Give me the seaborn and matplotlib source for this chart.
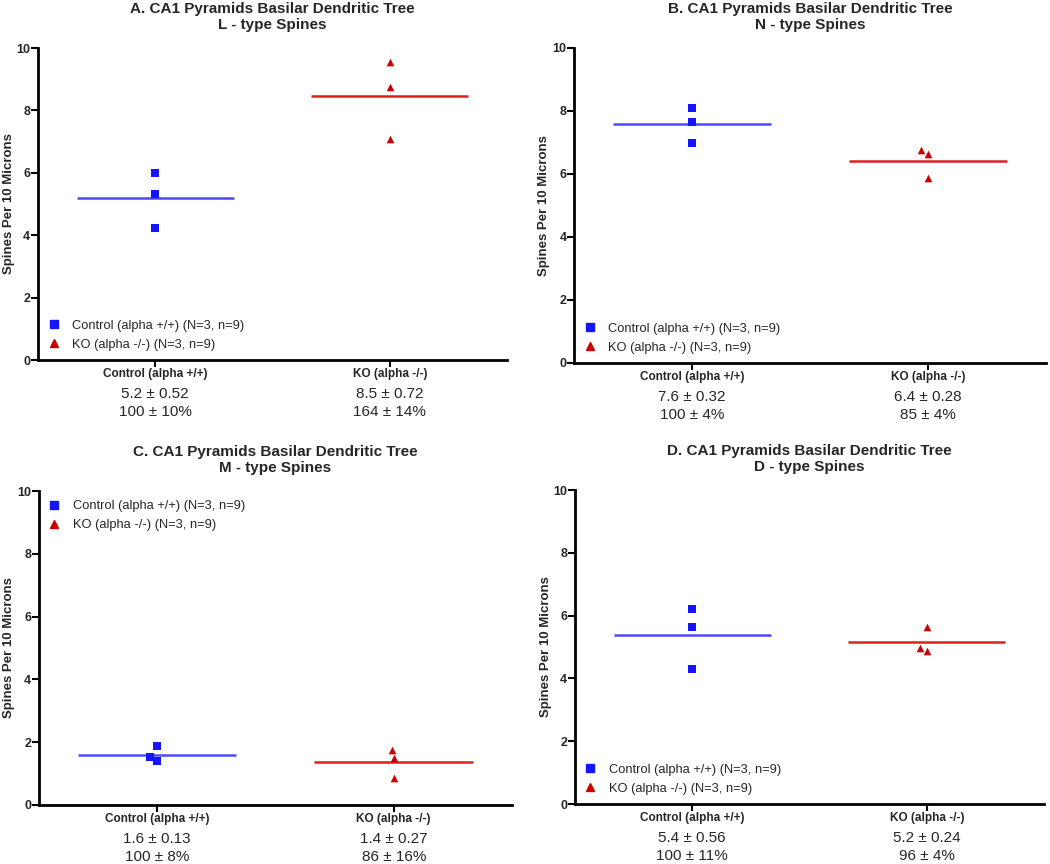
import numpy as np
import pandas as pd
import matplotlib
matplotlib.use("Agg")
import matplotlib.pyplot as plt
from matplotlib.lines import Line2D
import seaborn as sns

# ---- data ----
groups = ["Control (alpha +/+)", "KO (alpha -/-)"]
legend_labels = ["Control (alpha +/+) (N=3, n=9)", "KO (alpha -/-) (N=3, n=9)"]
panel_titles = [
    "A. CA1 Pyramids Basilar Dendritic Tree\nL - type Spines",
    "B. CA1 Pyramids Basilar Dendritic Tree\nN - type Spines",
    "C. CA1 Pyramids Basilar Dendritic Tree\nM - type Spines",
    "D. CA1 Pyramids Basilar Dendritic Tree\nD - type Spines",
]

ctrl_L = [6.00, 5.33, 4.23]
ko_L = [9.54, 8.76, 7.10]
ctrl_N = [8.10, 7.66, 6.98]
ko_N = [6.76, 6.63, 5.87]
ctrl_M = [1.87, 1.52, 1.41]
ko_M = [1.75, 1.51, 0.85]
ctrl_D = [6.20, 5.65, 4.31]
ko_D = [5.64, 4.97, 4.86]

stats_L = ["5.2 ± 0.52\n100 ± 10%", "8.5 ± 0.72\n164 ± 14%"]
stats_N = ["7.6 ± 0.32\n100 ± 4%", "6.4 ± 0.28\n85 ± 4%"]
stats_M = ["1.6 ± 0.13\n100 ± 8%", "1.4 ± 0.27\n86 ± 16%"]
stats_D = ["5.4 ± 0.56\n100 ± 11%", "5.2 ± 0.24\n96 ± 4%"]

# ---- styling ----
sns.set_style("white")
plt.rcParams['font.family'] = ['Liberation Sans', 'DejaVu Sans']

MARK_BLUE = '#1414ff'
LINE_BLUE = '#4a4aff'
MARK_RED = '#cc0000'
LINE_RED = '#dd2020'

fig = plt.figure(figsize=(10.5, 8.64), dpi=100)

# axes boxes [left, bottom, width, height] in figure fractions
boxes = [
    [0.0362, 0.5833, 0.4467, 0.3611],
    [0.5467, 0.5799, 0.4495, 0.3646],
    [0.0371, 0.0683, 0.4505, 0.3634],
    [0.5476, 0.0694, 0.4467, 0.3634],
]
panels = [
    (ctrl_L, ko_L, stats_L, 'lower left'),
    (ctrl_N, ko_N, stats_N, 'lower left'),
    (ctrl_M, ko_M, stats_M, 'upper left'),
    (ctrl_D, ko_D, stats_D, 'lower left'),
]

legend_handles = [
    Line2D([], [], linestyle='none', marker='s', color=MARK_BLUE, markersize=5.5),
    Line2D([], [], linestyle='none', marker='^', color=MARK_RED, markersize=5.5),
]

for box, title, (ctrl, ko, stats, leg_loc) in zip(boxes, panel_titles, panels):
    ax = fig.add_axes(box)
    df = pd.DataFrame({
        'group': [groups[0]] * len(ctrl) + [groups[1]] * len(ko),
        'value': ctrl + ko,
    })

    sns.swarmplot(data=df[df.group == groups[0]], x='group', y='value', order=groups,
                  marker='s', color=MARK_BLUE, size=5.5, linewidth=0, ax=ax)
    sns.swarmplot(data=df[df.group == groups[1]], x='group', y='value', order=groups,
                  marker='^', color=MARK_RED, size=5.5, linewidth=0, ax=ax)

    # mean lines
    means = df.groupby('group', sort=False)['value'].mean()
    for i, (g, c) in enumerate(zip(groups, [LINE_BLUE, LINE_RED])):
        ax.hlines(means[g], i - 0.335, i + 0.335, color=c, linewidth=1.8, zorder=1)

    ax.set_xlim(-0.5, 1.5)
    ax.set_ylim(0, 10)
    ax.set_yticks(range(0, 11, 2))
    ax.set_xlabel("")
    ax.set_ylabel("Spines Per 10 Microns", fontsize=9.5, fontweight='bold')
    ax.yaxis.set_label_coords(-0.05, 0.5)
    ax.set_title(title, fontsize=11, fontweight='bold', pad=14, linespacing=1.15)

    sns.despine(ax=ax)
    for side in ['left', 'bottom']:
        ax.spines[side].set_linewidth(2)
        ax.spines[side].set_color('black')
    ax.tick_params(axis='both', direction='out', length=5, width=1.5, color='black',
                   left=True, bottom=True)
    ax.tick_params(axis='y', pad=0.5, labelsize=9)
    ax.tick_params(axis='x', pad=1, labelsize=8.5)
    for lab in ax.get_xticklabels() + ax.get_yticklabels():
        lab.set_fontweight('bold')

    for i, s in enumerate(stats):
        ax.annotate(s, xy=(i, 0), xycoords=('data', 'axes fraction'),
                    xytext=(0, -31), textcoords='offset points',
                    ha='center', va='center', fontsize=11, linespacing=1.4)

    ax.legend(legend_handles, legend_labels, loc=leg_loc, frameon=False, fontsize=9.3,
              handlelength=1.0, handletextpad=0.9, borderaxespad=0.4,
              labelspacing=0.55, borderpad=0.3)

fig.savefig("out.png", dpi=100)
